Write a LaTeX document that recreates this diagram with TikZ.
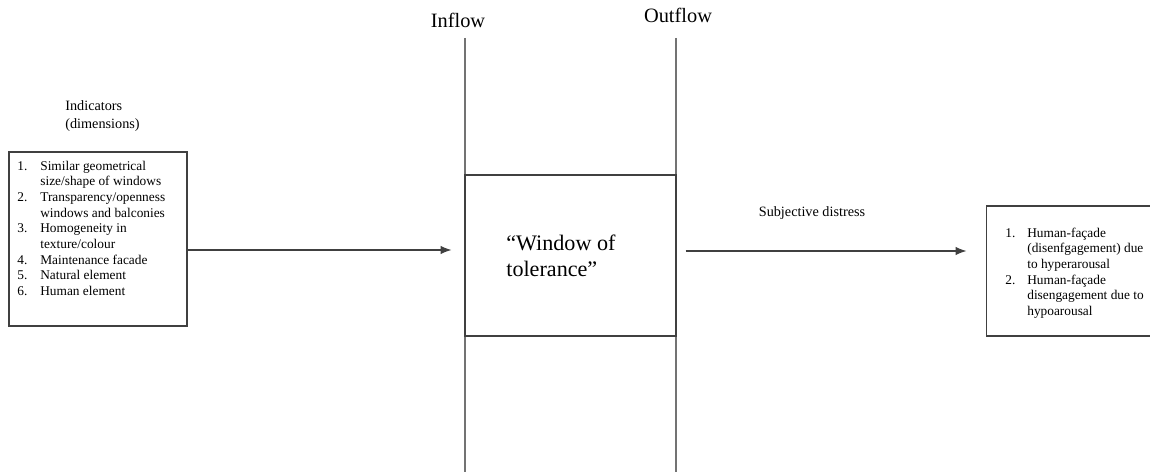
\documentclass[tikz,border=0pt]{standalone}
\usepackage{fontspec}
\setmainfont{Liberation Serif}
\usetikzlibrary{positioning, arrows.meta}
\tikzset{>=latex}

\begin{document}
\begin{tikzpicture}[x=0.02cm, y=-0.02cm]
    % Define node styles
    \tikzstyle{frame} = [rectangle, draw=black!75, line width=0.6pt]
    \tikzstyle{flow} = [draw=black!55, line width=0.6pt]
    \tikzstyle{small} = [inner sep=0pt, font=\fontsize{7.6}{8.9}\selectfont]
    \tikzstyle{big} = [inner sep=0pt, font=\fontsize{11.6}{13.8}\selectfont]

    \useasboundingbox (0,0) rectangle (1150,472);

    % Inflow / outflow lines
    \coordinate (inT) at (465,38);
    \coordinate (inB) at (465,472);
    \coordinate (outT) at (676,38);
    \coordinate (outB) at (676,472);
    \draw[flow] (inT) -- (inB);
    \draw[flow] (outT) -- (outB);
    \node[big] (inflow) at (458,20) {Inflow};
    \node[big] (outflow) at (678,15) {Outflow};

    % Window of tolerance
    \node[frame, fill=white, minimum width=4.22cm, minimum height=3.22cm] (wot) at (570.5,255.5) {};
    \node[inner sep=0pt, anchor=west, align=left, font=\fontsize{12.6}{14.8}\selectfont] (wottxt) at (506,256) {``Window of\\tolerance''};

    % Indicators box
    \node[inner sep=0pt, anchor=west, align=left, font=\fontsize{8.1}{10.2}\selectfont] (indhead) at (65,116) {Indicators\\(dimensions)};
    \node[frame, minimum width=3.56cm, minimum height=3.48cm] (inds) at (98,239) {};
    \node[small, anchor=north west] (indlist) at (17,159) {%
        \begin{tabular}{@{}p{0.46cm}@{}l@{}}
        1. & Similar geometrical\\
           & size/shape of windows\\
        2. & Transparency/openness\\
           & windows and balconies\\
        3. & Homogeneity in\\
           & texture/colour\\
        4. & Maintenance facade\\
        5. & Natural element\\
        6. & Human element
        \end{tabular}};

    % Result box
    \node[frame, minimum width=3.6cm, minimum height=2.6cm] (res) at (1076,271) {};
    \node[small, anchor=north west] (reslist) at (1005,226) {%
        \begin{tabular}{@{}p{0.44cm}@{}l@{}}
        1. & Human-façade\\
           & (disenfgagement) due\\
           & to hyperarousal\\
        2. & Human-façade\\
           & disengagement due to\\
           & hypoarousal
        \end{tabular}};

    \node[inner sep=0pt, font=\fontsize{8.1}{9.6}\selectfont] (distress) at (812,213) {Subjective distress};

    % Arrows
    \coordinate (s1) at ([yshift=-0.22cm]inds.east);
    \draw[flow, draw=black!75, -{Latex[length=2.2mm, width=1.7mm]}, shorten >=0.26cm] (s1) -- (s1 -| wot.west);
    \coordinate (s2) at ([xshift=0.18cm, yshift=0.09cm]wot.east);
    \draw[flow, draw=black!75, -{Latex[length=2.2mm, width=1.7mm]}, shorten >=0.38cm] (s2) -- (s2 -| res.west);

\end{tikzpicture}
\end{document}
